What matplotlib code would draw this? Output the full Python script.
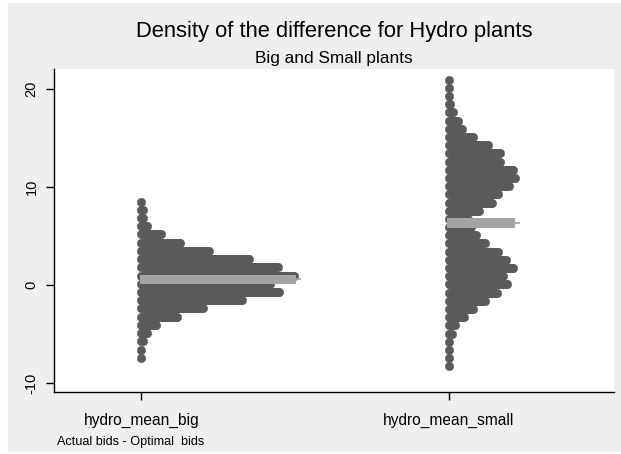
import numpy as np
import matplotlib
matplotlib.use("Agg")
import matplotlib.pyplot as plt
from matplotlib.patches import Rectangle

plt.rcParams['font.family'] = ['Liberation Sans', 'DejaVu Sans']

# ---- data ----
categories = ["hydro_mean_big", "hydro_mean_small"]

big_bins = [8.52, 7.68, 6.84, 6.00, 5.16, 4.32, 3.48, 2.64, 1.80, 0.96,
            0.12, -0.72, -1.56, -2.40, -3.24, -4.08, -4.92, -5.76, -6.60, -7.44]
big_counts = [1, 2, 2, 5, 14, 27, 46, 73, 92, 103,
              87, 93, 68, 42, 25, 11, 5, 2, 1, 1]

small_bins = [20.96, 20.12, 19.29, 18.45, 17.62, 16.78, 15.94, 15.11, 14.27, 13.44,
              12.60, 11.76, 10.93, 10.09, 9.26, 8.42, 7.58, 6.75, 5.91, 5.08,
              4.24, 3.40, 2.57, 1.73, 0.90, 0.06, -0.78, -1.61, -2.45, -3.28,
              -4.12, -4.96, -5.79, -6.63, -7.46, -8.30]
small_counts = [1, 1, 1, 2, 4, 7, 10, 17, 27, 35,
                35, 44, 45, 41, 34, 30, 21, 14, 16, 19,
                25, 34, 39, 44, 37, 40, 33, 25, 17, 11,
                5, 3, 1, 1, 1, 1]

bar_means = [0.58, 6.34]
bar_lengths = [104, 45]      # in dot-step units

yticks = [-10, 0, 10, 20]
title = "Density of the difference for Hydro plants"
subtitle = "Big and Small plants"
note = "Actual bids - Optimal  bids"

# ---- styling ----
W, H = 621, 454
fig = plt.figure(figsize=(W / 100, H / 100), dpi=100, facecolor='white')
bg = Rectangle((8 / W, 3 / H), (W - 8) / W, (H - 6) / H,
               transform=fig.transFigure, color='#EFEFEF', zorder=-10)
fig.add_artist(bg)

left, right, top, bottom = 54, 614, 69, 392
ax = fig.add_axes([left / W, (H - bottom) / H, (right - left) / W, (bottom - top) / H])
ax.set_zorder(1)
ax.set_facecolor('white')

positions = [1, 2]
step = 0.00488   # horizontal spacing of stacked dots (data units)
dot_color = '#5A5A5A'
bar_color = '#A3A3A3'

for pos, bins, counts in zip(positions, [big_bins, small_bins], [big_counts, small_counts]):
    xs, ys = [], []
    for b, c in zip(bins, counts):
        for k in range(c):
            xs.append(pos + k * step)
            ys.append(b)
    ax.plot(xs, ys, linestyle='none', marker='o', markersize=6.1,
            markerfacecolor=dot_color, markeredgecolor=dot_color,
            markeredgewidth=0.3, zorder=2)

for pos, m, L in zip(positions, bar_means, bar_lengths):
    ax.barh(m, L * step, left=pos - 0.004, height=0.95, color=bar_color, zorder=3)
    ax.hlines(m, pos, pos + L * step + 0.012, color=bar_color, lw=1.2, zorder=3)

ax.set_xlim(0.716, 2.538)
ax.set_ylim(-10.93, 22.06)
ax.set_xticks(positions)
ax.set_xticklabels(categories, fontsize=11.2)
ax.set_yticks(yticks)
ax.set_yticklabels([str(t) for t in yticks], fontsize=10.5, rotation=90, va='center')
ax.tick_params(axis='x', length=6, width=1, pad=9, colors='black')
ax.tick_params(axis='y', length=6, width=1, pad=5, colors='black')
for s in ['top', 'right']:
    ax.spines[s].set_visible(False)
for s in ['left', 'bottom']:
    ax.spines[s].set_linewidth(1)
    ax.spines[s].set_color('black')

cx = (left + right) / 2 / W
fig.text(cx, 1 - 32 / H, title, ha='center', va='center', fontsize=15.8)
fig.text(cx, 1 - 58.5 / H, subtitle, ha='center', va='center', fontsize=12.4)
fig.text(57 / W, 1 - 441.5 / H, note, ha='left', va='center', fontsize=9.1)

fig.savefig("out.png", dpi=100, facecolor=fig.get_facecolor())
